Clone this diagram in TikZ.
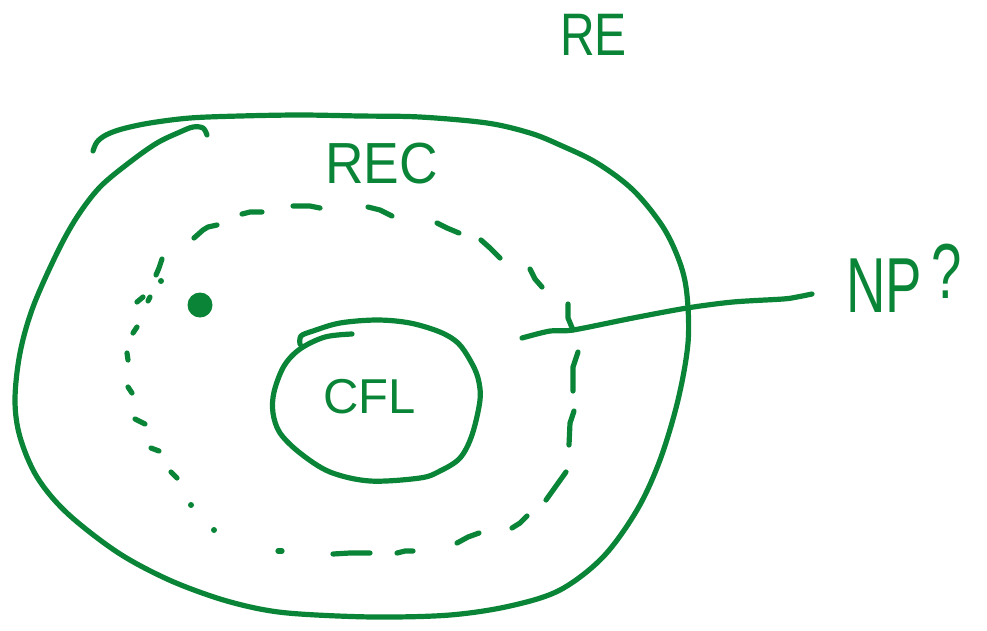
\documentclass[tikz,border=0pt]{standalone}
\usepackage{fontspec}
\setmainfont{Liberation Sans}
\definecolor{ink}{HTML}{0A8537}
\begin{document}
\begin{tikzpicture}[x=1pt,y=-1pt,
  pen/.style={draw=ink,line width=5.2pt,line cap=round,line join=round},
  dashpen/.style={draw=ink,line width=5.2pt,line cap=round,line join=round},
  lbl/.style={text=ink,inner sep=0pt,anchor=base west}]
\useasboundingbox (0,0) rectangle (987,630);
% outer region (RE boundary drawn by hand)
\draw[pen] plot[smooth,tension=0.55] coordinates {
 (93,151) (97,142) (106,135) (122,129) (150,123) (190,118) (240,116) (300,115)
 (360,116) (420,117) (487,123) (530,133) (560,145) (597,163) (633,190) (663,227)
 (680,263) (687,295) (688,343) (678,400) (660,460) (637,510) (603,557) (560,590)
 (510,606) (450,615) (375,617) (300,614) (260,609) (217,598) (167,579) (117,552)
 (67,513) (37,477) (20,437) (15,400) (20,353) (33,307) (57,253) (77,217) (100,187)
 (130,162) (157,143) (180,132) (193,127) (203,128) (207,135)};
% inner CFL circle
\draw[pen] plot[smooth,tension=0.55] coordinates {
 (352,334) (325,337) (300,349) (284,366) (274,392) (273,413) (280,433) (300,453)
 (330,472) (370,481) (420,478) (440,471) (460,458) (472,435) (480,400) (478,378)
 (470,360) (458,343) (440,332) (410,323) (377,320) (340,323) (313,331) (301,336) (300,344)};
% dashed REC boundary
\draw[dashpen] (293,206) -- (310,206) -- (320,208);
\draw[dashpen] (242,214) -- (250,212) -- (262,212);
\draw[dashpen] (194,238) -- (203,230) -- (208,227) -- (217,225);
\draw[dashpen] (162,259) -- (159,268) -- (156,275);
\fill[ink] (161,281) circle (3pt);
\draw[dashpen] (137,302) -- (143,297);
\draw[dashpen] (148,301) -- (150,297);
\draw[dashpen] (133,333) -- (137,327);
\draw[dashpen] (127,353) -- (128,360);
\draw[dashpen] (128,387) -- (132,393);
\draw[dashpen] (135,419) -- (145,424);
\draw[dashpen] (151,448) -- (159,451);
\draw[dashpen] (171,472) -- (177,478);
\fill[ink] (191,505) circle (3pt);
\fill[ink] (214,530) circle (3pt);
\draw[dashpen] (278,551) -- (282,551);
\draw[dashpen] (333,554) -- (350,553) -- (370,553);
\draw[dashpen] (397,553) -- (405,551) -- (413,551);
\draw[dashpen] (457,543) -- (468,537) -- (479,533);
\draw[dashpen] (512,528) -- (520,523) -- (527,516);
\draw[dashpen] (546,500) -- (556,486) -- (566,472);
\draw[dashpen] (569,445) -- (570,423) -- (574,411);
\draw[dashpen] (573,391) -- (573,367) -- (578,352);
\draw[dashpen] (568,304) -- (568,318) -- (573,330);
\draw[dashpen] (530,269) -- (535,279) -- (542,287);
\draw[dashpen] (481,240) -- (490,248) -- (500,258);
\draw[dashpen] (437,223) -- (447,228) -- (459,233);
\draw[dashpen] (368,207) -- (380,210) -- (392,216);
% point
\fill[ink] (200,305) circle (12.5pt);
% pointer line to NP?
\draw[pen] plot[smooth,tension=0.5] coordinates {
 (522,338) (550,331) (573,330) (633,318) (687,308) (733,302) (783,299) (797,297) (812,294)};
% labels
\node[lbl,font=\fontsize{60}{60}\selectfont] (re) at (560,55) {\scalebox{0.8}[1]{RE}};
\node[lbl,font=\fontsize{58}{58}\selectfont] (rec) at (325,183) {\scalebox{0.92}[1]{REC}};
\node[lbl,font=\fontsize{49}{49}\selectfont] (cfl) at (323,413) {CFL};
\node[lbl,font=\fontsize{78}{78}\selectfont] (np) at (846,312) {\scalebox{0.7}[1]{NP\,\raisebox{14pt}{?}}};
\end{tikzpicture}
\end{document}
